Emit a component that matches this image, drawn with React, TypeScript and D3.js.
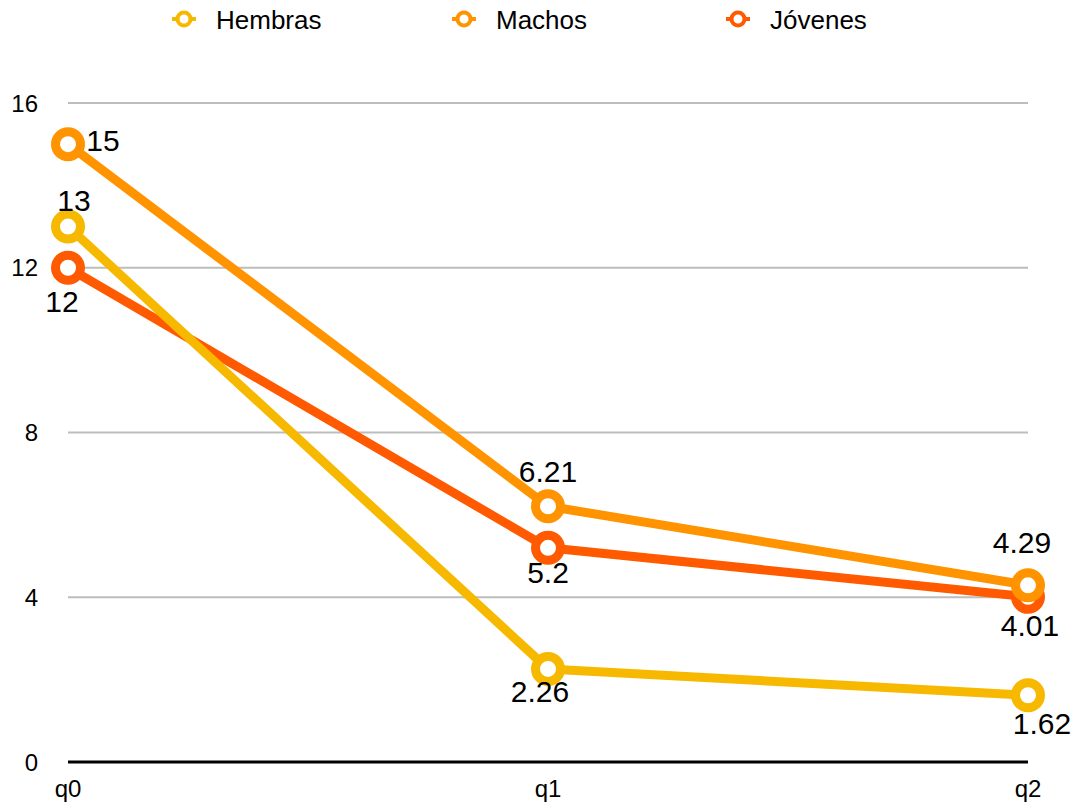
import React from "react";
import * as d3 from "d3";

const categories = ["q0", "q1", "q2"];
const seriesNames = ["Hembras", "Machos", "Jóvenes"];
const hembras = [13, 2.26, 1.62];
const machos = [15, 6.21, 4.29];
const jovenes = [12, 5.2, 4.01];
const yTicks = [0, 4, 8, 12, 16];

const colors = ["#F7B800", "#FF9400", "#FF5A00"];
// label offsets (dx, dy of label centre relative to point), per series per point
const labelOffsets = [
  [[6, -26], [-8, 23], [14, 28]],
  [[35, -4], [0, -35], [-6, -43]],
  [[-6, 34], [0, 25], [2, 29]],
];

const W = 1078;
const H = 806;
const FONT = "'Liberation Sans', Arial, Helvetica, sans-serif";

export default function App() {
  const data = [hembras, machos, jovenes];
  const x = d3.scalePoint<string>().domain(categories).range([68, 1028]);
  const y = d3.scaleLinear().domain([0, 16]).range([762, 103]);
  const line = d3
    .line<number>()
    .x((_, i) => x(categories[i]) as number)
    .y((d) => y(d));
  const legendX = [184, 464, 738];
  const order = [2, 1, 0];
  return (
    <svg
      width={W}
      height={H}
      style={{ position: "absolute", left: 0, top: 0, background: "#fff" }}
      fontFamily={FONT}
    >
      {/* legend */}
      {seriesNames.map((name, i) => (
        <g key={name} transform={`translate(${legendX[i]},19)`}>
          <line x1={-12} x2={12} y1={0} y2={0} stroke={colors[i]} strokeWidth={4} />
          <circle r={6.5} fill="#fff" stroke={colors[i]} strokeWidth={4} />
          <text x={32} y={9.5} fontSize={26} fill="#000">
            {name}
          </text>
        </g>
      ))}
      {/* grid */}
      {yTicks.map((t) => (
        <g key={t}>
          {t !== 0 && (
            <line x1={68} x2={1028} y1={y(t)} y2={y(t)} stroke="#BDBDBD" strokeWidth={2} />
          )}
          <text x={38} y={y(t) + 8.5} fontSize={24} textAnchor="end" fill="#000">
            {t}
          </text>
        </g>
      ))}
      <line x1={68} x2={1028} y1={y(0)} y2={y(0)} stroke="#000" strokeWidth={3} />
      {categories.map((c) => (
        <text key={c} x={x(c)} y={797} fontSize={24} textAnchor="middle" fill="#000">
          {c}
        </text>
      ))}
      {/* series */}
      {order.map((s) => (
        <g key={s}>
          <path d={line(data[s]) || ""} fill="none" stroke={colors[s]} strokeWidth={9} strokeLinejoin="round" />
          {data[s].map((v, i) => (
            <circle
              key={i}
              cx={x(categories[i])}
              cy={y(v)}
              r={12.5}
              fill="#fff"
              stroke={colors[s]}
              strokeWidth={9}
            />
          ))}
        </g>
      ))}
      {/* labels */}
      {order.map((s) =>
        data[s].map((v, i) => (
          <text
            key={`${s}-${i}`}
            x={(x(categories[i]) as number) + labelOffsets[s][i][0]}
            y={y(v) + labelOffsets[s][i][1] + 10.5}
            fontSize={30}
            textAnchor="middle"
            fill="#000"
          >
            {String(v)}
          </text>
        ))
      )}
    </svg>
  );
}
